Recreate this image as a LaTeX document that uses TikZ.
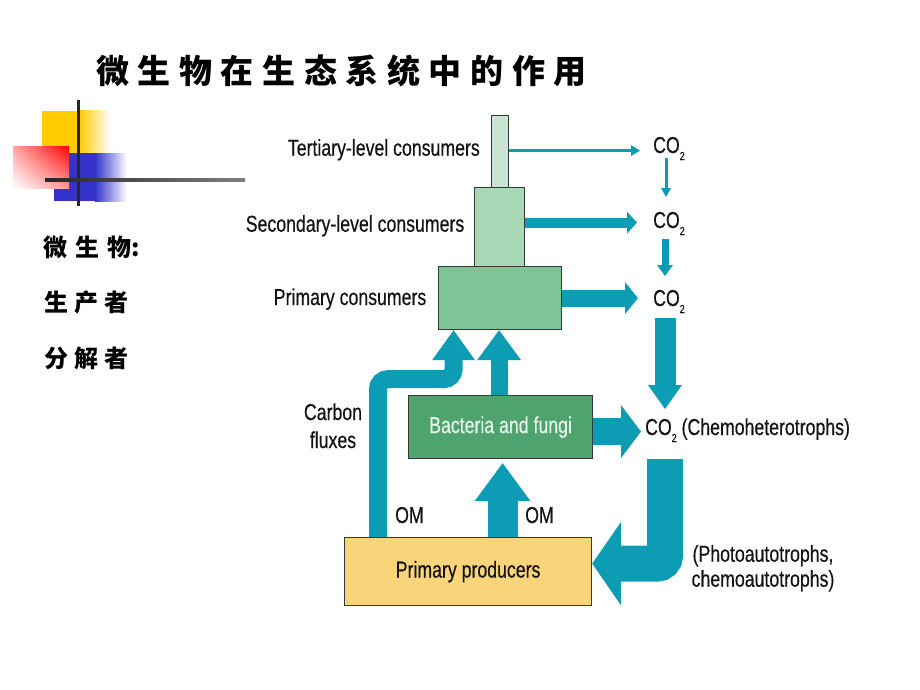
\documentclass[tikz,border=0pt]{standalone}
\usepackage{fontspec}
\setmainfont{Liberation Sans}
\newfontfamily\narrowfont{Liberation Sans}[FakeStretch=0.77,FakeBold=0.5]
\newfontfamily\cjkfont{Noto Sans CJK SC}
\usetikzlibrary{arrows.meta,calc,shadings}
\pgfdeclarelayer{back}
\pgfdeclarelayer{bg}
\pgfsetlayers{back,bg,main}
\definecolor{flowc}{RGB}{12,157,180}
\definecolor{terc}{RGB}{200,230,210}
\definecolor{secc}{RGB}{168,216,182}
\definecolor{pcc}{RGB}{127,196,150}
\definecolor{bacc}{RGB}{78,163,110}
\definecolor{proc}{RGB}{250,212,122}
\definecolor{boxline}{RGB}{50,60,55}
\definecolor{txtc}{RGB}{20,20,20}
\definecolor{bactxt}{RGB}{232,245,236}
\definecolor{decoyellow}{RGB}{255,204,0}
\definecolor{decoblue}{RGB}{51,51,204}
\newcommand{\cgap}{\hspace{8.6pt}}
\newcommand{\cotwo}{CO\raisebox{-7pt}{\fontsize{11.5}{12}\selectfont 2}}
\tikzset{
  lbl/.style={font=\narrowfont\fontsize{23}{25}\selectfont, text=txtc, inner sep=0pt},
  box/.style={draw=boxline, line width=1.2pt, inner sep=0pt, anchor=north west,
    font=\narrowfont\fontsize{23}{25}\selectfont, text=txtc},
  flow/.style={draw=flowc, line width=#1},
  cjk/.style={font=\cjkfont\bfseries\fontsize{#1}{#1}\selectfont, text=black, inner sep=0pt},
}
\begin{document}
\begin{tikzpicture}[x=1pt,y=-1pt]
\useasboundingbox (0,0) rectangle (920,690);
\begin{pgfonlayer}{back}
\fill[white] (0,0) rectangle (920,690);
\end{pgfonlayer}

% title
\node[cjk=33, anchor=west] (title) at (96,71)
  {微\cgap 生\cgap 物\cgap 在\cgap 生\cgap 态\cgap 系\cgap 统\cgap 中\cgap 的\cgap 作\cgap 用};

% decoration
\fill[decoyellow] (42,111) rectangle (80,153);
\shade[left color=decoyellow,right color=white] (80,111) rectangle (110,153);
\fill[decoblue] (54,153) rectangle (95,201);
\shade[left color=decoblue,right color=white] (95,153) rectangle (127,201);
\shade[upper left=red!35!white, upper right=red, lower left=white, lower right=red!40!white]
  (13,146) rectangle (69,188);
\fill[black!85] (76.5,100) rectangle (79.5,206);
\shade[left color=black!85, right color=black!50] (45,178.5) rectangle (245,181.5);

% left text
\node[cjk=24, anchor=west] (t1) at (43,247) {微\hspace{8pt}生\hspace{8pt}物:};
\node[cjk=24, anchor=west] (t2) at (44,302) {生\hspace{6pt}产\hspace{6pt}者};
\node[cjk=24, anchor=west] (t3) at (44,358) {分\hspace{6pt}解\hspace{6pt}者};

% boxes
\node[box, fill=terc, minimum width=17pt, minimum height=72pt] (tert) at (491,115) {};
\node[box, fill=secc, minimum width=50pt, minimum height=79pt] (sec) at (474,187) {};
\node[box, fill=pcc, minimum width=123pt, minimum height=63pt] (pc) at (438,266) {};
\node[box, fill=bacc, minimum width=184pt, minimum height=63pt, text=bactxt] (bact) at (408,395) {Bacteria and fungi};
\node[box, fill=proc, minimum width=247pt, minimum height=68pt] (prod) at (344,537) {Primary producers};

% labels
\node[lbl, anchor=base east] (ltert) at (480,155.7) {Tertiary-level consumers};
\node[lbl, anchor=base east] (lsec) at (464.5,231.7) {Secondary-level consumers};
\node[lbl, anchor=base east] (lpc) at (426.5,305) {Primary consumers};
\node[lbl, anchor=base] (lcarb) at (333,420) {Carbon};
\node[lbl, anchor=base] (lflux) at (333,448) {fluxes};
\node[lbl, anchor=base west] (om1) at (395,523) {OM};
\node[lbl, anchor=base west] (om2) at (525,523) {OM};
\node[lbl, anchor=base west] (co2a) at (653,153) {\cotwo};
\node[lbl, anchor=base west] (co2b) at (653,228) {\cotwo};
\node[lbl, anchor=base west] (co2c) at (653,306) {\cotwo};
\node[lbl, anchor=base west] (co2d) at (645,435) {\cotwo{} (Chemoheterotrophs)};
\node[lbl, anchor=base] (lphoto) at (763,561.7) {(Photoautotrophs,};
\node[lbl, anchor=base] (lchemo) at (763,586.7) {chemoautotrophs)};

% coordinates for the CO2 chain
\coordinate (d1s) at (666,158);
\coordinate (d1e) at (666,197);
\coordinate (d2s) at (665,239);
\coordinate (d2e) at (665,276);
\coordinate (d3s) at (665,318);
\coordinate (d3e) at (665,409);
\coordinate (d4s) at (665,459);

\begin{pgfonlayer}{bg}
% horizontal outflows
\draw[flow=3pt, shorten >=13pt, -{Triangle[length=9pt,width=11pt,line width=0pt]}]
  ([yshift=1pt]tert.east) -- ([yshift=1pt]tert.east -| co2a.west);
\draw[flow=10pt, shorten >=16pt, -{Triangle[length=10pt,width=22pt,line width=0pt]}]
  ([yshift=4.5pt]sec.east) -- ([yshift=4.5pt]sec.east -| co2b.west);
\draw[flow=17pt, shorten >=15pt, -{Triangle[length=13pt,width=32pt,line width=0pt]}]
  (pc.east) -- (pc.east -| co2c.west);
\draw[flow=27pt, shorten >=4pt, -{Triangle[length=20pt,width=53pt,line width=0pt]}]
  ([yshift=-4.5pt]bact.east) -- ([yshift=-4.5pt]bact.east -| co2d.west);
% downward chain
\draw[flow=3pt, -{Triangle[length=9pt,width=10pt,line width=0pt]}] (d1s) -- (d1e);
\draw[flow=7pt, -{Triangle[length=11pt,width=16pt,line width=0pt]}] (d2s) -- (d2e);
\draw[flow=21pt, -{Triangle[length=24pt,width=34pt,line width=0pt]}] (d3s) -- (d3e);
% L arrow back to producers
\draw[flow=36pt, rounded corners=8pt, -{Triangle[length=29pt,width=84pt,line width=0pt]}]
  (d4s) |- ([yshift=8pt]prod.east);
% carbon fluxes
\draw[flow=18pt, rounded corners=10pt, -{Triangle[length=30pt,width=43pt,line width=0pt]}]
  ([xshift=34pt]prod.north west) |- ($(pc.south)+(-46.5,49)$) -- ([xshift=-46.5pt]pc.south);
\draw[flow=17pt, -{Triangle[length=30pt,width=44pt,line width=0pt]}]
  ([xshift=-1.5pt]bact.north) -- ([xshift=-1.5pt]bact.north |- pc.south);
\draw[flow=30pt, shorten >=4pt, -{Triangle[length=38pt,width=56pt,line width=0pt]}]
  ([xshift=34.5pt]prod.north) -- ([xshift=34.5pt]prod.north |- bact.south);
\end{pgfonlayer}
\end{tikzpicture}
\end{document}
